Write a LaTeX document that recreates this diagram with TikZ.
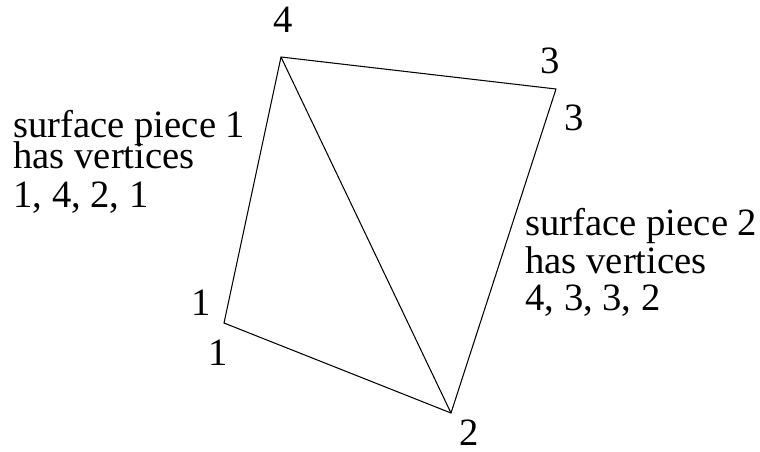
\documentclass[tikz,border=0pt]{standalone}
\usepackage{fontspec}
\newfontfamily\labfont{Liberation Serif}
\begin{document}
\begin{tikzpicture}[
  x=0.02cm, y=-0.02cm,
  edge/.style={line width=0.6pt},
  vlabel/.style={font=\labfont\fontsize{22}{26}\selectfont, anchor=base, inner sep=0},
  note/.style={font=\labfont\fontsize{22}{26}\selectfont, anchor=base west, inner sep=0}
]
  \useasboundingbox (0,0) rectangle (760,451);
  % corners of the two surface pieces
  \coordinate (v1) at (224,323);
  \coordinate (v2) at (451,413);
  \coordinate (v3) at (556,89);
  \coordinate (v4) at (281,57);
  \draw[edge] (v1) -- (v4) -- (v3) -- (v2) -- cycle;
  \draw[edge] (v4) -- (v2);
  % vertex numbers
  \node[vlabel] (n4) at (283,32) {4};
  \node[vlabel] (n3a) at (550,73) {3};
  \node[vlabel] (n3b) at (574,130) {3};
  \node[vlabel] (n1a) at (201,315) {1};
  \node[vlabel] (n1b) at (218,365) {1};
  \node[vlabel] (n2) at (469,445) {2};
  % piece 1
  \node[note] (p1a) at (13,137) {surface piece 1};
  \node[note] (p1b) at (13,168) {has vertices};
  \node[note] (p1c) at (13,207) {1, 4, 2, 1};
  % piece 2
  \node[note] (p2a) at (525,235) {surface piece 2};
  \node[note] (p2b) at (525,273) {has vertices};
  \node[note] (p2c) at (525,310) {4, 3, 3, 2};
\end{tikzpicture}
\end{document}
